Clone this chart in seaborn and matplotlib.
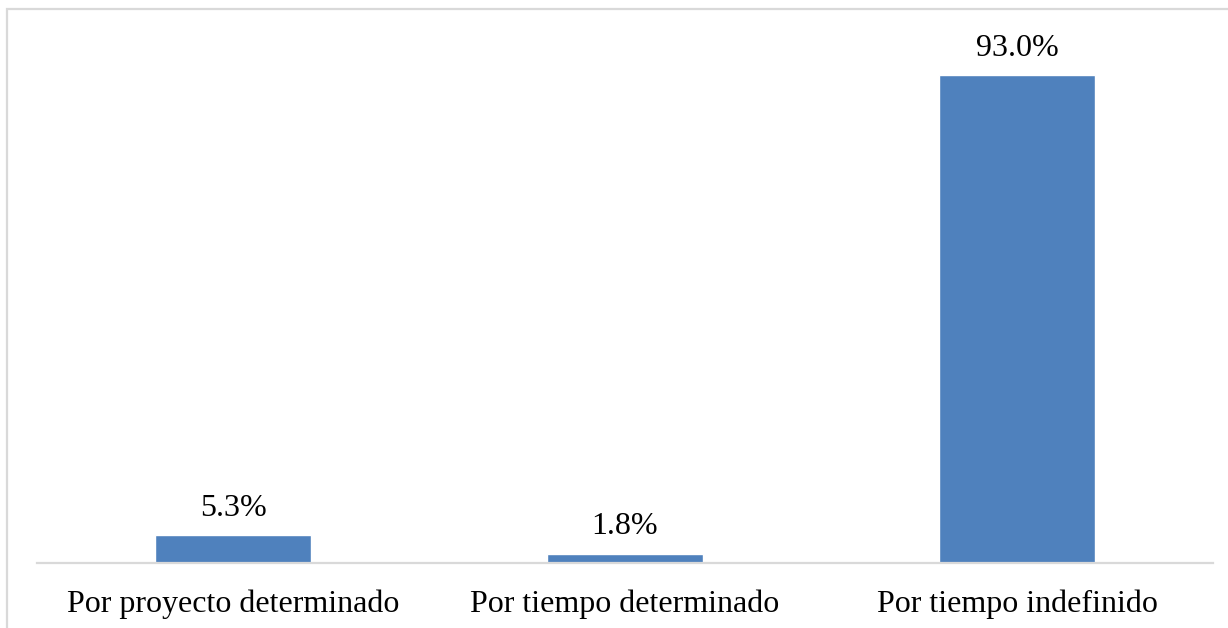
import matplotlib
matplotlib.use("Agg")
import matplotlib.pyplot as plt
import matplotlib.patches as mpatches
import pandas as pd
import seaborn as sns

categories = ["Por proyecto determinado", "Por tiempo determinado", "Por tiempo indefinido"]
values = [5.3, 1.8, 93.0]

BAR_COLOR = "#4F81BD"
GRID_GRAY = "#D9D9D9"

sns.set_style("white")
plt.rcParams["font.family"] = ["Liberation Serif", "DejaVu Serif"]

df = pd.DataFrame({"cat": categories, "val": values})

fig = plt.figure(figsize=(12.28, 6.28), dpi=100)
W, H = 1228, 628
ax = fig.add_axes([37 / W, (H - 563) / H, 1176 / W, 543 / H])

sns.barplot(data=df, x="cat", y="val", color=BAR_COLOR, width=0.4,
            saturation=1, ax=ax)

ax.set_xlim(-0.5, 2.5)
ax.set_ylim(0, 93.0 * 543 / 488)
for side in ["top", "right", "left"]:
    ax.spines[side].set_visible(False)
ax.spines["bottom"].set_color(GRID_GRAY)
ax.spines["bottom"].set_linewidth(1.6)
ax.set_yticks([])
ax.set_xlabel("")
ax.set_ylabel("")
ax.tick_params(axis="x", length=0, pad=19, labelsize=23, colors="black")

for i, v in enumerate(values):
    ax.annotate(f"{v:.1f}%", (i, v), xytext=(0, 9), textcoords="offset points",
                ha="center", va="bottom", fontsize=23, color="black")

# outer chart border (partially cropped in the reference)
border = mpatches.Rectangle((7 / W, -0.1), 1.2, 1 - 9 / H + 0.1,
                            transform=fig.transFigure, fill=False,
                            edgecolor=GRID_GRAY, linewidth=1.6, clip_on=False)
fig.add_artist(border)

fig.savefig("out.png", dpi=100, facecolor="white")
